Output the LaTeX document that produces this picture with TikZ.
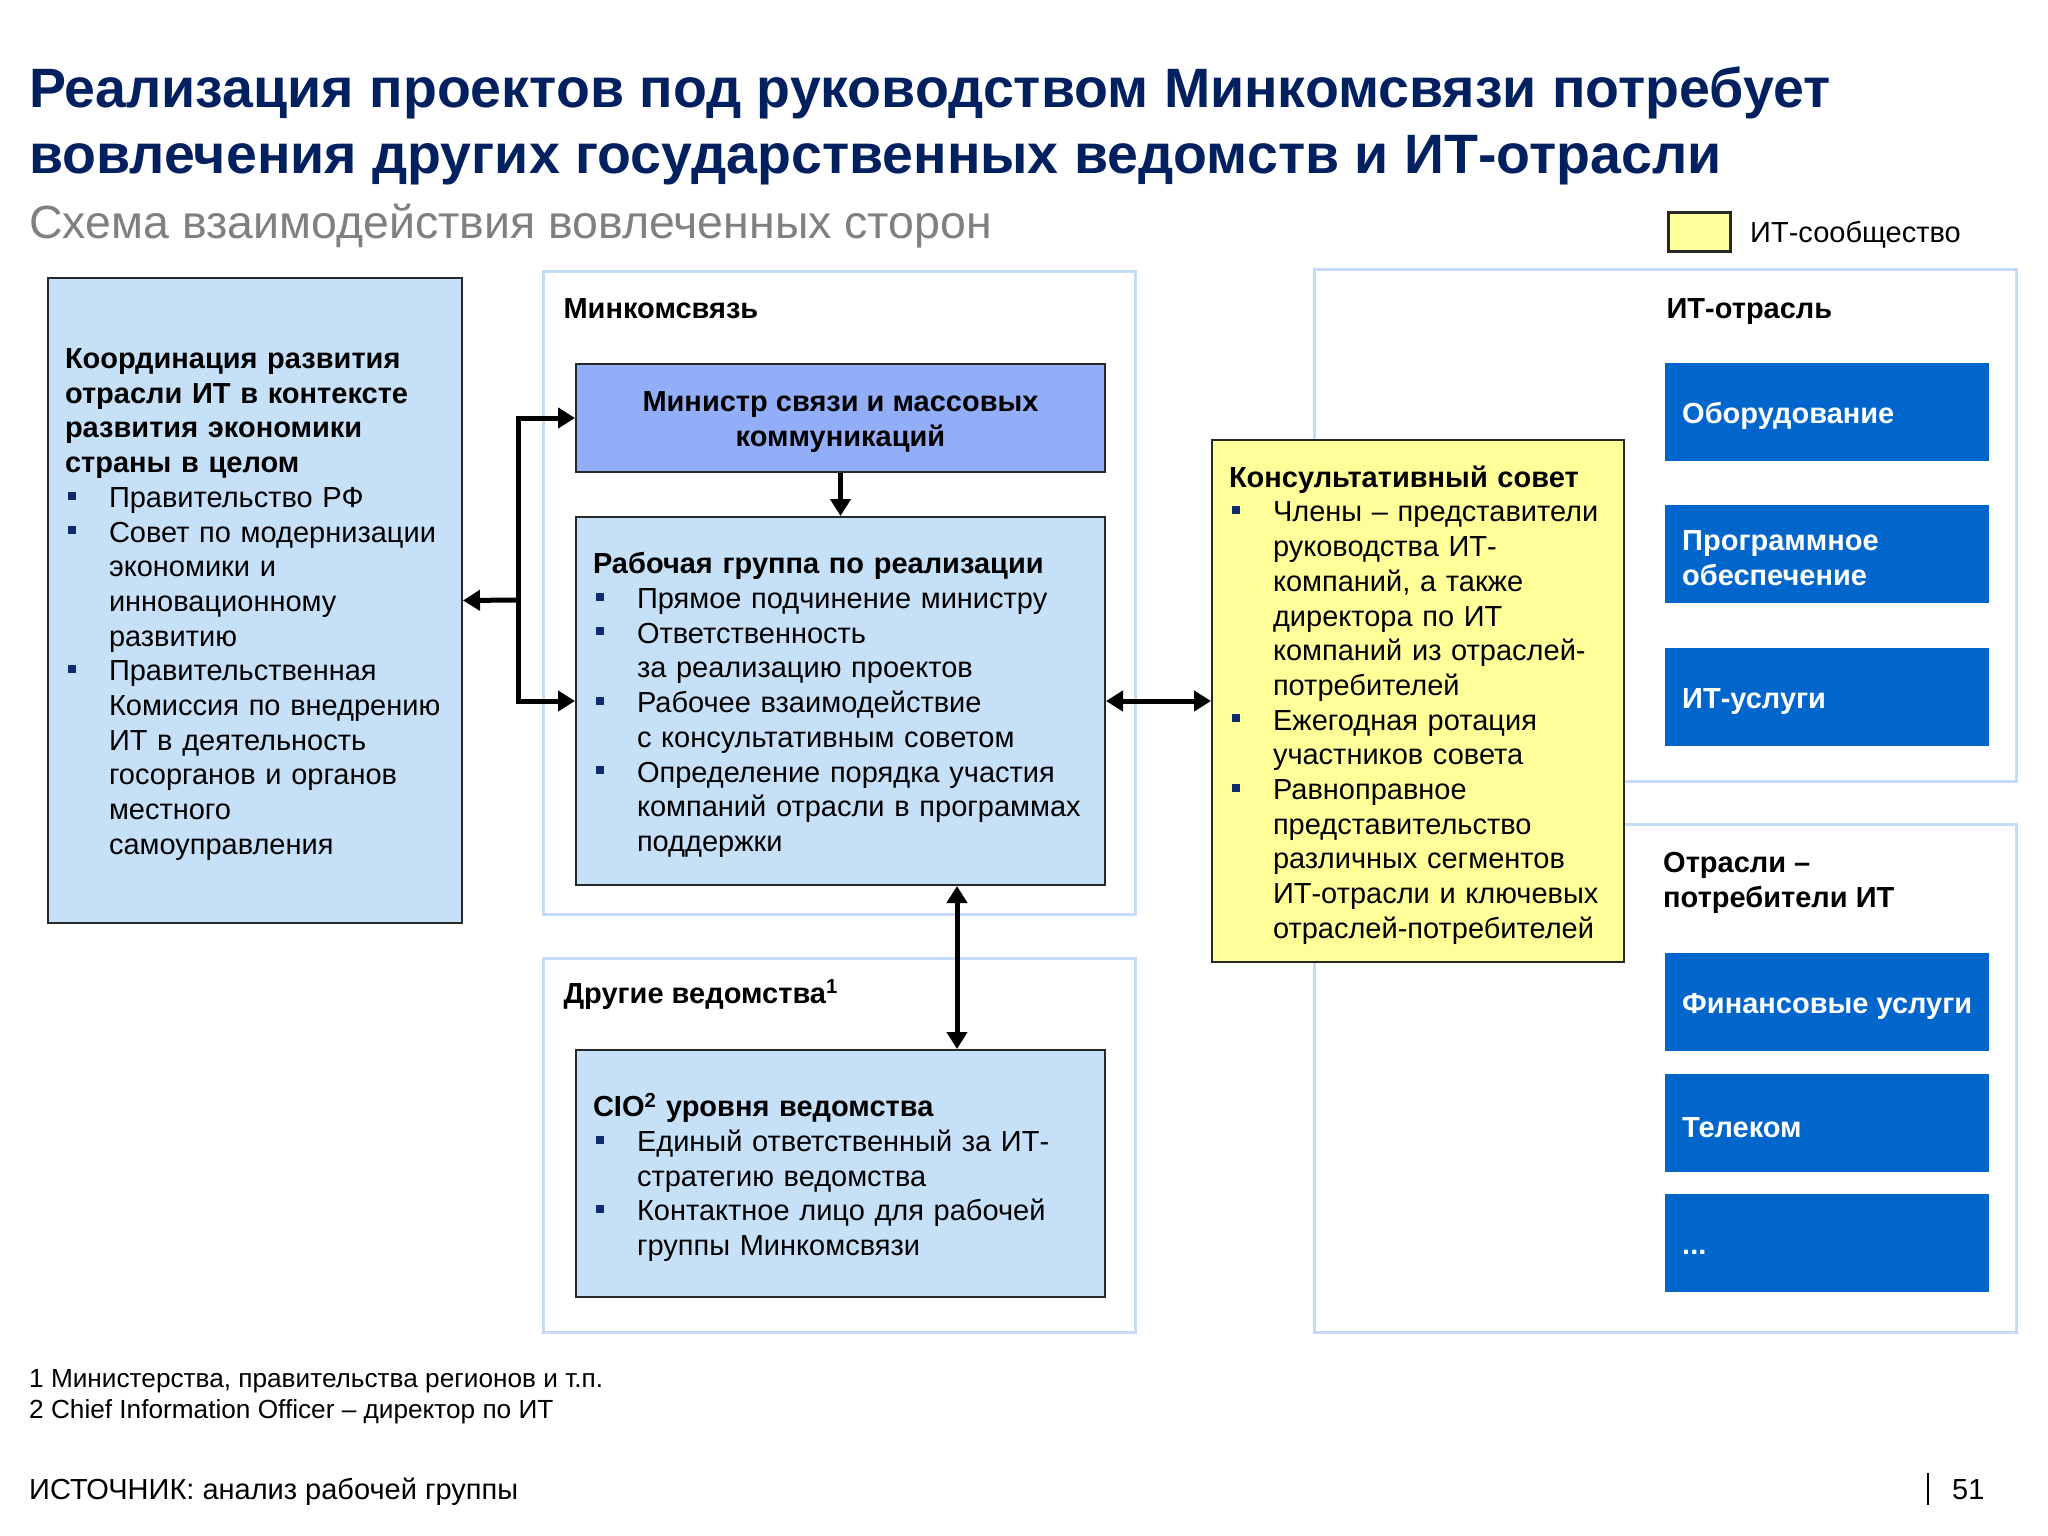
\documentclass[tikz,border=0pt]{standalone}
\usepackage{fontspec}
\setmainfont{Liberation Sans}
\usepackage{xcolor}
\usetikzlibrary{arrows.meta, positioning}
\setlength{\parindent}{0pt}

\definecolor{titlenavy}{RGB}{0,32,96}
\definecolor{subgray}{RGB}{128,128,128}
\definecolor{panelline}{RGB}{198,219,245}
\definecolor{lightfill}{RGB}{198,224,248}
\definecolor{ministerfill}{RGB}{146,174,248}
\definecolor{councilfill}{RGB}{255,255,153}
\definecolor{segblue}{RGB}{0,102,204}
\definecolor{bulletnavy}{RGB}{16,44,110}
\definecolor{boxline}{RGB}{40,40,40}

\newcommand{\txtbody}{\fontsize{29}{34.7}\selectfont}
\newcommand{\txtnote}{\fontsize{26.2}{31}\selectfont}
\newcommand{\nl}{\unskip\nobreak\hfil\break}
\newcommand{\bitem}{\par\hangindent=44pt\hangafter=1\noindent\makebox[44pt][l]{\hspace{3pt}\textcolor{bulletnavy}{\rule[0.27em]{8pt}{8pt}}}\ignorespaces}

\tikzset{
  panel/.style={draw=panelline, line width=3pt, fill=white, anchor=north west, inner sep=0pt},
  infobox/.style={draw=boxline, line width=2pt, fill=lightfill, anchor=north west, inner sep=0pt},
  boxtext/.style={anchor=center, yshift=-4pt, inner sep=0pt, align=left, font=\txtbody},
  segbox/.style={fill=segblue, anchor=north west, inner sep=0pt,
    minimum width=324pt, minimum height=98pt},
  seglabel/.style={anchor=west, align=left, inner sep=0pt, text=white, font=\txtbody\bfseries},
  paneltitle/.style={anchor=base west, font=\txtbody\bfseries},
  link/.style={line width=5pt, -{Triangle[length=17pt,width=20pt]}},
  duplex/.style={line width=5pt, {Triangle[length=17pt,width=20pt]}-{Triangle[length=17pt,width=20pt]}}
}

\begin{document}
\begin{tikzpicture}[x=1pt, y=-1pt]
  \useasboundingbox (0,0) rectangle (2048,1536);
  \fill[white] (0,0) rectangle (2048,1536);

  % header
  \node[anchor=base west, text=titlenavy, font=\fontsize{55.5}{66}\selectfont\bfseries, inner sep=0pt] (title1) at (29,108)
    {Реализация проектов под руководством Минкомсвязи потребует};
  \node[anchor=base west, text=titlenavy, font=\fontsize{55.5}{66}\selectfont\bfseries, inner sep=0pt] (title2) at (29,173)
    {вовлечения других государственных ведомств и ИТ-отрасли};
  \node[anchor=base west, text=subgray, font=\fontsize{46.5}{55}\selectfont, inner sep=0pt] (subtitle) at (29,238)
    {Схема взаимодействия вовлеченных сторон};
  \node[draw=boxline, line width=2.5pt, fill=councilfill, anchor=north west, inner sep=0pt,
    minimum width=62pt, minimum height=39pt] (legendkey) at (1667,211) {};
  \node[anchor=base west, font=\txtbody, inner sep=0pt] (legendtext) at (1750,242) {ИТ-сообщество};

  % containers
  \node[panel, minimum width=592pt, minimum height=643pt] (minpanel) at (542,270) {};
  \node[panel, minimum width=592pt, minimum height=374pt] (otherpanel) at (542,957) {};
  \node[panel, minimum width=702pt, minimum height=512pt] (itpanel) at (1313,268) {};
  \node[panel, minimum width=702pt, minimum height=508pt] (userpanel) at (1313,823) {};
  \node[paneltitle] (minlabel) at (560,318) {Минкомсвязь};
  \node[paneltitle] (otherlabel) at (560,1003) {Другие ведомства\textsuperscript{1}};
  \node[paneltitle] (itlabel) at (1663,318) {ИТ-отрасль};
  \node[anchor=west, align=left, font=\txtbody\bfseries, inner sep=0pt] (userlabel) at (1663,883)
    {Отрасли –\\потребители ИТ};

  % boxes
  \node[infobox, minimum width=414pt, minimum height=645pt] (coord) at (47,277) {};
  \node[boxtext, text width=380pt] (coordtext) at (coord.center)
    {\textbf{Координация развития\nl отрасли ИТ в контексте\nl развития экономики\nl страны в целом}%
     \bitem Правительство РФ%
     \bitem Совет по модернизации\nl экономики и\nl инновационному\nl развитию%
     \bitem Правительственная\nl Комиссия по внедрению\nl ИТ в деятельность\nl госорганов и органов\nl местного\nl самоуправления\par};

  \node[infobox, fill=ministerfill, minimum width=529pt, minimum height=108pt] (minister) at (575,363) {};
  \node[boxtext, align=center, font=\txtbody\bfseries] (ministertext) at (minister.center)
    {Министр связи и массовых\\коммуникаций};

  \node[infobox, minimum width=529pt, minimum height=368pt] (wg) at (575,516) {};
  \node[boxtext, text width=495pt] (wgtext) at (wg.center)
    {\textbf{Рабочая группа по реализации}%
     \bitem Прямое подчинение министру%
     \bitem Ответственность\nl за реализацию проектов%
     \bitem Рабочее взаимодействие\nl с консультативным советом%
     \bitem Определение порядка участия\nl компаний отрасли в программах\nl поддержки\par};

  \node[infobox, minimum width=529pt, minimum height=247pt] (cio) at (575,1049) {};
  \node[boxtext, text width=495pt] (ciotext) at (cio.center)
    {\textbf{CIO\textsuperscript{2} уровня ведомства}%
     \bitem Единый ответственный за ИТ-\nl стратегию ведомства%
     \bitem Контактное лицо для рабочей\nl группы Минкомсвязи\par};

  \node[infobox, fill=councilfill, minimum width=412pt, minimum height=522pt] (council) at (1211,439) {};
  \node[boxtext, text width=378pt] (counciltext) at (council.center)
    {\textbf{Консультативный совет}%
     \bitem Члены – представители\nl руководства ИТ-\nl компаний, а также\nl директора по ИТ\nl компаний из отраслей-\nl потребителей%
     \bitem Ежегодная ротация\nl участников совета%
     \bitem Равноправное\nl представительство\nl различных сегментов\nl ИТ-отрасли и ключевых\nl отраслей-потребителей\par};

  \foreach \y/\nm/\lbl in {363/hw/{Оборудование}, 505/sw/{Программное\\обеспечение}, 648/svc/{ИТ-услуги},
                          953/fin/{Финансовые услуги}, 1074/tel/{Телеком}, 1194/etc/{\strut...}} {
    \node[segbox] (seg\nm) at (1665,\y) {};
    \node[seglabel, yshift=-4pt] (seg\nm text) at ([xshift=17pt]seg\nm.west) {\lbl};
  }

  % connectors
  \coordinate (spine) at (518,600);
  \coordinate (vlink) at (957,1000);
  \draw[link] (spine) |- (minister.west);
  \draw[link] (spine) |- (wg.west);
  \draw[link] (spine) -- (coord.east);
  \draw[link] (minister) -- (wg);
  \draw[duplex] (wg.east) -- (council.west);
  \draw[duplex] (wg.south -| vlink) -- (cio.north -| vlink);

  % footer
  \node[anchor=base west, font=\txtnote, inner sep=0pt] (note1) at (29,1387) {1 Министерства, правительства регионов и т.п.};
  \node[anchor=base west, font=\txtnote, inner sep=0pt] (note2) at (29,1418) {2 Chief Information Officer – директор по ИТ};
  \node[anchor=base west, font=\txtbody, inner sep=0pt] (source) at (29,1499) {ИСТОЧНИК: анализ рабочей группы};
  \draw[line width=2pt] (1928,1473) -- (1928,1505);
  \node[anchor=base west, font=\txtbody, inner sep=0pt] (pageno) at (1952,1499) {51};
\end{tikzpicture}
\end{document}
